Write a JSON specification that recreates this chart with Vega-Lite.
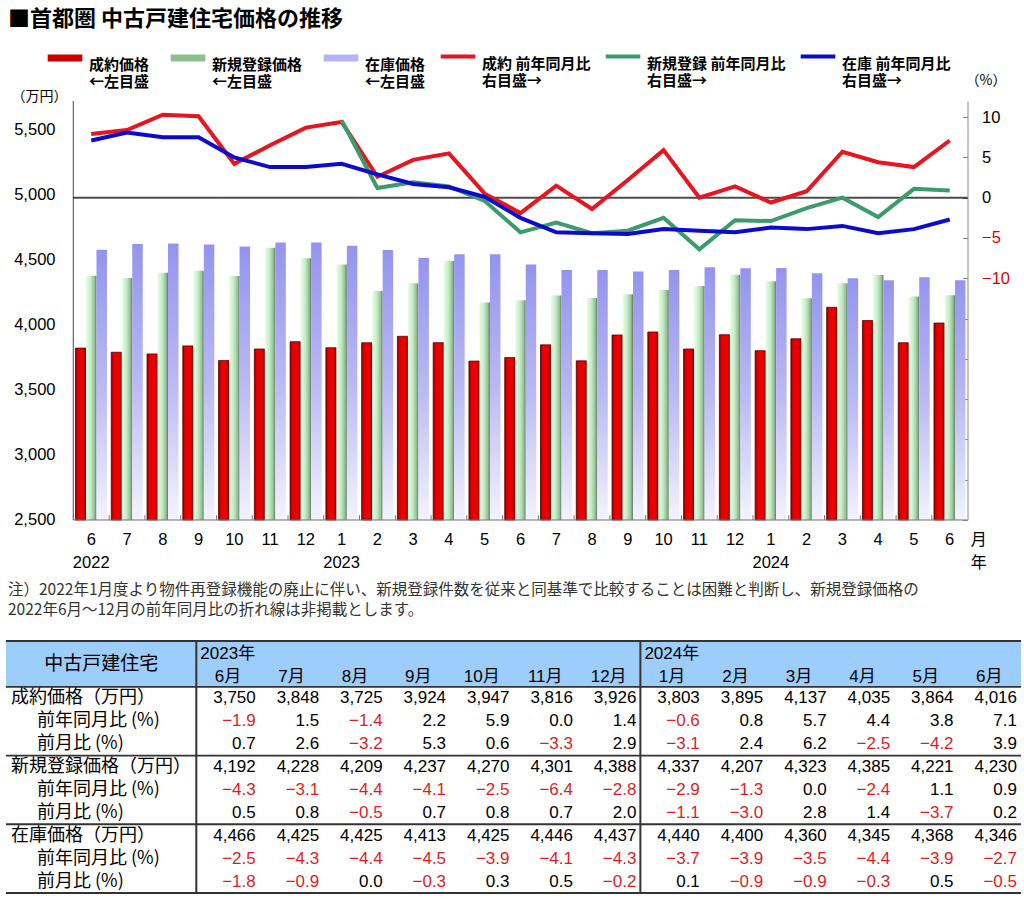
{
  "$schema": "https://vega.github.io/schema/vega-lite/v6.json",
  "padding": {"left": 5, "right": 0, "top": 8, "bottom": 0},
  "config": {
    "view": {"stroke": null},
    "font": "Noto Sans CJK JP",
    "axis": {"labelFont": "Liberation Sans", "labelFontSize": 16.5, "labelColor": "#000", "domainColor": "#666", "tickColor": "#666", "grid": false, "titleColor": "#000"}
  },
  "title": {"text": "■首都圏 中古戸建住宅価格の推移", "anchor": "start", "fontSize": 22, "font": "Noto Sans CJK JP", "fontWeight": "bold", "offset": 6, "dx": 3, "color": "#000"},
  "spacing": 10,
  "datasets": {
    "m": [
      {"ym": "2022-06", "mn": "6", "yr": "2022", "mo": "6月", "s": 3823, "n": 4380, "z": 4581, "s_yoy": 7.9, "n_yoy": null, "z_yoy": 7.1},
      {"ym": "2022-07", "mn": "7", "mo": "7月", "s": 3791, "n": 4363, "z": 4624, "s_yoy": 8.4, "n_yoy": null, "z_yoy": 8.1},
      {"ym": "2022-08", "mn": "8", "mo": "8月", "s": 3778, "n": 4403, "z": 4629, "s_yoy": 10.3, "n_yoy": null, "z_yoy": 7.5},
      {"ym": "2022-09", "mn": "9", "mo": "9月", "s": 3840, "n": 4418, "z": 4621, "s_yoy": 10.1, "n_yoy": null, "z_yoy": 7.5},
      {"ym": "2022-10", "mn": "10", "mo": "10月", "s": 3727, "n": 4379, "z": 4605, "s_yoy": 4.2, "n_yoy": null, "z_yoy": 5.0},
      {"ym": "2022-11", "mn": "11", "mo": "11月", "s": 3816, "n": 4595, "z": 4636, "s_yoy": 6.5, "n_yoy": null, "z_yoy": 3.8},
      {"ym": "2022-12", "mn": "12", "mo": "12月", "s": 3872, "n": 4514, "z": 4636, "s_yoy": 8.7, "n_yoy": null, "z_yoy": 3.8},
      {"ym": "2023-01", "mn": "1", "yr": "2023", "mo": "1月", "s": 3826, "n": 4466, "z": 4611, "s_yoy": 9.4, "n_yoy": 9.6, "z_yoy": 4.2},
      {"ym": "2023-02", "mn": "2", "mo": "2月", "s": 3864, "n": 4262, "z": 4579, "s_yoy": 2.6, "n_yoy": 1.2, "z_yoy": 2.9},
      {"ym": "2023-03", "mn": "3", "mo": "3月", "s": 3914, "n": 4323, "z": 4518, "s_yoy": 4.7, "n_yoy": 1.9, "z_yoy": 1.7},
      {"ym": "2023-04", "mn": "4", "mo": "4月", "s": 3865, "n": 4493, "z": 4545, "s_yoy": 5.5, "n_yoy": 1.4, "z_yoy": 1.3},
      {"ym": "2023-05", "mn": "5", "mo": "5月", "s": 3723, "n": 4175, "z": 4545, "s_yoy": 0.5, "n_yoy": -0.4, "z_yoy": 0.1},
      {"ym": "2023-06", "mn": "6", "mo": "6月", "s": 3750, "n": 4192, "z": 4466, "s_yoy": -1.9, "n_yoy": -4.3, "z_yoy": -2.5, "s_mom": 0.7, "n_mom": 0.5, "z_mom": -1.8},
      {"ym": "2023-07", "mn": "7", "mo": "7月", "s": 3848, "n": 4228, "z": 4425, "s_yoy": 1.5, "n_yoy": -3.1, "z_yoy": -4.3, "s_mom": 2.6, "n_mom": 0.8, "z_mom": -0.9},
      {"ym": "2023-08", "mn": "8", "mo": "8月", "s": 3725, "n": 4209, "z": 4425, "s_yoy": -1.4, "n_yoy": -4.4, "z_yoy": -4.4, "s_mom": -3.2, "n_mom": -0.5, "z_mom": 0.0},
      {"ym": "2023-09", "mn": "9", "mo": "9月", "s": 3924, "n": 4237, "z": 4413, "s_yoy": 2.2, "n_yoy": -4.1, "z_yoy": -4.5, "s_mom": 5.3, "n_mom": 0.7, "z_mom": -0.3},
      {"ym": "2023-10", "mn": "10", "mo": "10月", "s": 3947, "n": 4270, "z": 4425, "s_yoy": 5.9, "n_yoy": -2.5, "z_yoy": -3.9, "s_mom": 0.6, "n_mom": 0.8, "z_mom": 0.3},
      {"ym": "2023-11", "mn": "11", "mo": "11月", "s": 3816, "n": 4301, "z": 4446, "s_yoy": 0.0, "n_yoy": -6.4, "z_yoy": -4.1, "s_mom": -3.3, "n_mom": 0.7, "z_mom": 0.5},
      {"ym": "2023-12", "mn": "12", "mo": "12月", "s": 3926, "n": 4388, "z": 4437, "s_yoy": 1.4, "n_yoy": -2.8, "z_yoy": -4.3, "s_mom": 2.9, "n_mom": 2.0, "z_mom": -0.2},
      {"ym": "2024-01", "mn": "1", "yr": "2024", "mo": "1月", "s": 3803, "n": 4337, "z": 4440, "s_yoy": -0.6, "n_yoy": -2.9, "z_yoy": -3.7, "s_mom": -3.1, "n_mom": -1.1, "z_mom": 0.1},
      {"ym": "2024-02", "mn": "2", "mo": "2月", "s": 3895, "n": 4207, "z": 4400, "s_yoy": 0.8, "n_yoy": -1.3, "z_yoy": -3.9, "s_mom": 2.4, "n_mom": -3.0, "z_mom": -0.9},
      {"ym": "2024-03", "mn": "3", "mo": "3月", "s": 4137, "n": 4323, "z": 4360, "s_yoy": 5.7, "n_yoy": 0.0, "z_yoy": -3.5, "s_mom": 6.2, "n_mom": 2.8, "z_mom": -0.9},
      {"ym": "2024-04", "mn": "4", "mo": "4月", "s": 4035, "n": 4385, "z": 4345, "s_yoy": 4.4, "n_yoy": -2.4, "z_yoy": -4.4, "s_mom": -2.5, "n_mom": 1.4, "z_mom": -0.3},
      {"ym": "2024-05", "mn": "5", "mo": "5月", "s": 3864, "n": 4221, "z": 4368, "s_yoy": 3.8, "n_yoy": 1.1, "z_yoy": -3.9, "s_mom": -4.2, "n_mom": -3.7, "z_mom": 0.5},
      {"ym": "2024-06", "mn": "6", "mo": "6月", "s": 4016, "n": 4230, "z": 4346, "s_yoy": 7.1, "n_yoy": 0.9, "z_yoy": -2.7, "s_mom": 3.9, "n_mom": 0.2, "z_mom": -0.5}
    ],
    "rowsMain": [
      {"r": "s", "label": "成約価格（万円）"},
      {"r": "n", "label": "新規登録価格（万円）"},
      {"r": "z", "label": "在庫価格（万円）"}
    ],
    "rowsSub": [
      {"r": "s_yoy", "label": "前年同月比 (%)"},
      {"r": "s_mom", "label": "前月比 (%)"},
      {"r": "n_yoy", "label": "前年同月比 (%)"},
      {"r": "n_mom", "label": "前月比 (%)"},
      {"r": "z_yoy", "label": "前年同月比 (%)"},
      {"r": "z_mom", "label": "前月比 (%)"}
    ]
  },
  "vconcat": [
    {
      "width": 961.5,
      "height": 419,
      "data": {"name": "m"},
      "encoding": {
        "x": {"field": "ym", "type": "ordinal", "axis": null, "scale": {"paddingInner": 0.12, "paddingOuter": 1.049, "align": 0.9714, "round": false}}
      },
      "layer": [
        {
          "layer": [
            {
              "transform": [{"fold": ["s", "n", "z"], "as": ["k", "val"]}, {"filter": "datum.k == 's'"}],
              "mark": {"type": "bar", "stroke": "#5a0000", "strokeWidth": 0.8,
                "color": {"gradient": "linear", "x1": 0, "x2": 1, "y1": 0, "y2": 0,
                  "stops": [{"offset": 0, "color": "#7a0000"}, {"offset": 0.2, "color": "#e00000"}, {"offset": 0.7, "color": "#f00000"}, {"offset": 1, "color": "#950000"}]}},
              "encoding": {
                "xOffset": {"field": "k", "type": "nominal", "scale": {"domain": ["s", "n", "z"], "paddingInner": 0, "paddingOuter": 0}},
                "y": {"field": "val", "type": "quantitative", "scale": {"domain": [2500, 5725], "zero": false, "nice": false}, "axis": null},
                "y2": {"datum": 2500}
              }
            },
            {
              "transform": [{"fold": ["s", "n", "z"], "as": ["k", "val"]}, {"filter": "datum.k == 'n'"}],
              "mark": {"type": "bar",
                "color": {"gradient": "linear", "x1": 0, "x2": 1, "y1": 0, "y2": 0,
                  "stops": [{"offset": 0, "color": "#eafdea"}, {"offset": 0.45, "color": "#c4ecc4"}, {"offset": 0.8, "color": "#98c098"}, {"offset": 1, "color": "#5e7a5e"}]}},
              "encoding": {
                "xOffset": {"field": "k", "type": "nominal", "scale": {"domain": ["s", "n", "z"], "paddingInner": 0, "paddingOuter": 0}},
                "y": {"field": "val", "type": "quantitative", "scale": {"domain": [2500, 5725], "zero": false, "nice": false}, "axis": null},
                "y2": {"datum": 2500}
              }
            },
            {
              "transform": [{"fold": ["s", "n", "z"], "as": ["k", "val"]}, {"filter": "datum.k == 'z'"}],
              "mark": {"type": "bar",
                "color": {"gradient": "linear", "x1": 0, "x2": 0, "y1": 0, "y2": 1,
                  "stops": [{"offset": 0, "color": "#9494ee"}, {"offset": 0.5, "color": "#b9b9f4"}, {"offset": 1, "color": "#f3f3fe"}]}},
              "encoding": {
                "xOffset": {"field": "k", "type": "nominal", "scale": {"domain": ["s", "n", "z"], "paddingInner": 0, "paddingOuter": 0}},
                "y": {"field": "val", "type": "quantitative", "scale": {"domain": [2500, 5725], "zero": false, "nice": false}, "axis": null},
                "y2": {"datum": 2500}
              }
            },
            {
              "data": {"values": [{"tv": 2500}, {"tv": 3000}, {"tv": 3500}, {"tv": 4000}, {"tv": 4500}, {"tv": 5000}, {"tv": 5500}]},
              "mark": {"type": "text", "align": "right", "baseline": "middle", "dx": -20, "fontSize": 16.5, "font": "Liberation Sans", "color": "#000"},
              "encoding": {
                "x": {"datum": "2022-06", "type": "ordinal", "bandPosition": 0, "axis": null},
                "y": {"field": "tv", "type": "quantitative", "scale": {"domain": [2500, 5725], "zero": false, "nice": false}, "axis": null},
                "text": {"field": "tv", "type": "quantitative", "format": ","}
              }
            },
            {
              "data": {"values": [{"tv": 5725, "t": "（万円）"}]},
              "mark": {"type": "text", "align": "left", "baseline": "middle", "dx": -64, "dy": -4, "fontSize": 14, "font": "Noto Sans CJK JP", "color": "#000"},
              "encoding": {
                "x": {"datum": "2022-06", "type": "ordinal", "bandPosition": 0, "axis": null},
                "y": {"field": "tv", "type": "quantitative", "scale": {"domain": [2500, 5725], "zero": false, "nice": false}, "axis": null},
                "text": {"field": "t"}
              }
            },
            {
              "data": {"values": [{"tv": 5725}]},
              "mark": {"type": "rule", "color": "#666", "strokeWidth": 1.2},
              "encoding": {
                "x": {"datum": "2022-06", "type": "ordinal", "bandPosition": -0.069, "axis": null}
              }
            }
          ]
        },
        {
          "mark": {"type": "tick", "orient": "horizontal", "size": 35.9, "thickness": 2, "color": "#000"},
          "encoding": {"y": {"datum": 0, "type": "quantitative", "scale": {"domain": [-40, 12], "zero": false, "nice": false}, "axis": null}}
        },
        {
          "mark": {"type": "tick", "orient": "horizontal", "size": 35.9, "thickness": 1.5, "color": "#777"},
          "encoding": {"y": {"datum": -40, "type": "quantitative", "scale": {"domain": [-40, 12], "zero": false, "nice": false}, "axis": null}}
        },
        {
          "mark": {"type": "rule", "color": "#777", "strokeWidth": 1},
          "encoding": {
            "x": {"field": "ym", "type": "ordinal", "bandPosition": -0.068, "axis": null},
            "y": {"datum": -40, "type": "quantitative", "scale": {"domain": [-40, 12], "zero": false, "nice": false}, "axis": null},
            "y2": {"datum": -39.4}
          }
        },
        {
          "mark": {"type": "text", "align": "center", "baseline": "top", "dy": 12, "fontSize": 16.5, "font": "Liberation Sans", "color": "#000"},
          "encoding": {
            "y": {"datum": -40, "type": "quantitative", "scale": {"domain": [-40, 12], "zero": false, "nice": false}, "axis": null},
            "text": {"field": "mn"}
          }
        },
        {
          "transform": [{"filter": "isValid(datum.yr)"}],
          "mark": {"type": "text", "align": "center", "baseline": "top", "dy": 35, "fontSize": 16.5, "font": "Liberation Sans", "color": "#000"},
          "encoding": {
            "y": {"datum": -40, "type": "quantitative", "scale": {"domain": [-40, 12], "zero": false, "nice": false}, "axis": null},
            "text": {"field": "yr"}
          }
        },
        {
          "data": {"values": [{"t": "月"}]},
          "mark": {"type": "text", "align": "center", "baseline": "top", "dx": 29, "dy": 12, "fontSize": 16, "font": "Noto Sans CJK JP", "color": "#000"},
          "encoding": {
            "x": {"datum": "2024-06", "type": "ordinal", "axis": null},
            "y": {"datum": -40, "type": "quantitative", "scale": {"domain": [-40, 12], "zero": false, "nice": false}, "axis": null},
            "text": {"field": "t"}
          }
        },
        {
          "data": {"values": [{"t": "年"}]},
          "mark": {"type": "text", "align": "center", "baseline": "top", "dx": 29, "dy": 35, "fontSize": 16, "font": "Noto Sans CJK JP", "color": "#000"},
          "encoding": {
            "x": {"datum": "2024-06", "type": "ordinal", "axis": null},
            "y": {"datum": -40, "type": "quantitative", "scale": {"domain": [-40, 12], "zero": false, "nice": false}, "axis": null},
            "text": {"field": "t"}
          }
        },
        {
          "transform": [{"fold": ["s_yoy", "n_yoy", "z_yoy"], "as": ["k", "pct"]}],
          "mark": {"type": "line"},
          "encoding": {
            "y": {
              "field": "pct", "type": "quantitative",
              "scale": {"domain": [-40, 12], "zero": false, "nice": false},
              "axis": {
                "orient": "right", "values": [-40, -35, -30, -25, -20, -15, -10, -5, 0, 5, 10],
                "labelExpr": "datum.value >= -10 ? datum.label : ''",
                "labelColor": {"condition": {"test": "datum.value < 0", "value": "#e00000"}, "value": "#000"},
                "tickSize": -5, "labelPadding": 19, "domainColor": "#888", "tickColor": "#888",
                "title": "（%）", "titleAngle": 0, "titleX": 18, "titleY": -21, "titleAlign": "center", "titleBaseline": "middle",
                "titleFont": "Noto Sans CJK JP", "titleFontSize": 14, "titleFontWeight": "normal"
              }
            },
            "color": {
              "field": "k", "type": "nominal",
              "scale": {"domain": ["sb", "nb", "zb", "s_yoy", "n_yoy", "z_yoy"], "range": ["#c80000", "#8fbf8f", "#b4b4f4", "#e8141e", "#3d9a6c", "#0b0bd0"]},
              "legend": {
                "title": null, "orient": "none", "legendX": 38, "legendY": -64, "direction": "horizontal", "columns": 6, "gridAlign": "none",
                "symbolType": "stroke", "symbolSize": 1200, "labelFont": "Noto Sans CJK JP", "labelFontSize": 15, "labelFontWeight": "bold",
                "labelBaseline": "top", "labelOffset": 3, "labelLimit": 300, "columnPadding": 6, "padding": 0, "labelColor": "#000",
                "labelExpr": "datum.value=='sb' ? ['成約価格','←左目盛'] : datum.value=='nb' ? ['新規登録価格','←左目盛'] : datum.value=='zb' ? ['在庫価格','←左目盛'] : datum.value=='s_yoy' ? ['成約 前年同月比','右目盛→'] : datum.value=='n_yoy' ? ['新規登録 前年同月比','右目盛→'] : ['在庫 前年同月比','右目盛→']"
              }
            },
            "strokeWidth": {
              "field": "k", "type": "nominal",
              "scale": {"type": "ordinal", "domain": ["sb", "nb", "zb", "s_yoy", "n_yoy", "z_yoy"], "range": [7, 7, 7, 4, 4, 4]},
              "legend": {
                "title": null, "orient": "none", "legendX": 38, "legendY": -64, "direction": "horizontal", "columns": 6, "gridAlign": "none",
                "symbolType": "stroke", "symbolSize": 1200, "labelFont": "Noto Sans CJK JP", "labelFontSize": 15, "labelFontWeight": "bold",
                "labelBaseline": "top", "labelOffset": 3, "labelLimit": 300, "columnPadding": 6, "padding": 0, "labelColor": "#000",
                "labelExpr": "datum.value=='sb' ? ['成約価格','←左目盛'] : datum.value=='nb' ? ['新規登録価格','←左目盛'] : datum.value=='zb' ? ['在庫価格','←左目盛'] : datum.value=='s_yoy' ? ['成約 前年同月比','右目盛→'] : datum.value=='n_yoy' ? ['新規登録 前年同月比','右目盛→'] : ['在庫 前年同月比','右目盛→']"
              }
            }
          }
        }
      ],
      "resolve": {"scale": {"y": "independent"}}
    },
    {
      "width": 1015,
      "height": 252,
      "title": {
        "text": ["注）2022年1月度より物件再登録機能の廃止に伴い、新規登録件数を従来と同基準で比較することは困難と判断し、新規登録価格の", "2022年6月～12月の前年同月比の折れ線は非掲載とします。"],
        "anchor": "start", "fontSize": 15.5, "fontWeight": "normal", "color": "#333", "lineHeight": 20, "offset": 22, "dx": 3, "font": "Noto Sans CJK JP"
      },
      "layer": [
        {
          "data": {"values": [{"r": "h1"}, {"r": "h2"}]},
          "mark": {"type": "rect", "color": "#9dcdfa"},
          "encoding": {
            "y": {"field": "r", "type": "nominal", "axis": null,
              "scale": {"type": "band", "domain": ["h1", "h2", "s", "s_yoy", "s_mom", "n", "n_yoy", "n_mom", "z", "z_yoy", "z_mom"], "paddingInner": 0, "paddingOuter": 0}}
          }
        },
        {
          "data": {"values": [{"r": "h1"}, {"r": "s"}, {"r": "n"}, {"r": "z"}]},
          "mark": {"type": "rule", "color": "#333", "strokeWidth": 1.8},
          "encoding": {
            "y": {"field": "r", "type": "nominal", "bandPosition": 0, "axis": null}
          }
        },
        {
          "data": {"values": [{"r": "z_mom"}]},
          "mark": {"type": "rule", "color": "#333", "strokeWidth": 2},
          "encoding": {
            "y": {"field": "r", "type": "nominal", "bandPosition": 1, "axis": null}
          }
        },
        {
          "data": {"values": [{"ym": "2023-06"}, {"ym": "2024-01"}]},
          "mark": {"type": "rule", "color": "#333", "strokeWidth": 2},
          "encoding": {
            "x": {"field": "ym", "type": "nominal", "bandPosition": 0, "axis": null,
              "scale": {"type": "band", "domain": ["L1", "L2", "L3", "2023-06", "2023-07", "2023-08", "2023-09", "2023-10", "2023-11", "2023-12", "2024-01", "2024-02", "2024-03", "2024-04", "2024-05", "2024-06"], "paddingInner": 0, "paddingOuter": 0}}
          }
        },
        {
          "data": {"name": "rowsMain"},
          "mark": {"type": "text", "align": "left", "baseline": "middle", "dx": 5, "fontSize": 18, "font": "Noto Sans CJK JP", "color": "#000"},
          "encoding": {
            "x": {"datum": "L1", "type": "nominal", "bandPosition": 0},
            "y": {"field": "r", "type": "nominal"},
            "text": {"field": "label"}
          }
        },
        {
          "data": {"name": "rowsSub"},
          "mark": {"type": "text", "align": "left", "baseline": "middle", "dx": 31, "fontSize": 18, "font": "Noto Sans CJK JP", "color": "#000"},
          "encoding": {
            "x": {"datum": "L1", "type": "nominal", "bandPosition": 0},
            "y": {"field": "r", "type": "nominal"},
            "text": {"field": "label"}
          }
        },
        {
          "data": {"values": [{"t": "中古戸建住宅"}]},
          "mark": {"type": "text", "align": "center", "baseline": "middle", "fontSize": 19, "font": "Noto Sans CJK JP", "color": "#000"},
          "encoding": {
            "x": {"datum": "L2", "type": "nominal"},
            "y": {"datum": "h1", "type": "nominal", "bandPosition": 1},
            "text": {"field": "t"}
          }
        },
        {
          "data": {"values": [{"ym": "2023-06", "t": "2023年"}, {"ym": "2024-01", "t": "2024年"}]},
          "mark": {"type": "text", "align": "left", "baseline": "middle", "dx": 4, "dy": 2, "fontSize": 17, "font": "Liberation Sans, Noto Sans CJK JP", "color": "#000"},
          "encoding": {
            "x": {"field": "ym", "type": "nominal", "bandPosition": 0},
            "y": {"datum": "h1", "type": "nominal"},
            "text": {"field": "t"}
          }
        },
        {
          "data": {"name": "m"},
          "transform": [{"filter": "datum.ym >= '2023-06'"}],
          "mark": {"type": "text", "align": "center", "baseline": "middle", "dy": 2, "fontSize": 17, "font": "Liberation Sans, Noto Sans CJK JP", "color": "#000"},
          "encoding": {
            "x": {"field": "ym", "type": "nominal"},
            "y": {"datum": "h2", "type": "nominal"},
            "text": {"field": "mo"}
          }
        },
        {
          "data": {"name": "m"},
          "transform": [{"filter": "datum.ym >= '2023-06'"}, {"fold": ["s", "n", "z"], "as": ["k", "v"]}],
          "mark": {"type": "text", "align": "right", "baseline": "middle", "dx": -4, "fontSize": 17, "font": "Liberation Sans", "color": "#000"},
          "encoding": {
            "x": {"field": "ym", "type": "nominal", "bandPosition": 1},
            "y": {"field": "k", "type": "nominal"},
            "text": {"field": "v", "type": "quantitative", "format": ","}
          }
        },
        {
          "data": {"name": "m"},
          "transform": [{"filter": "datum.ym >= '2023-06'"}, {"fold": ["s_yoy", "s_mom", "n_yoy", "n_mom", "z_yoy", "z_mom"], "as": ["k", "v"]}],
          "mark": {"type": "text", "align": "right", "baseline": "middle", "dx": -4, "fontSize": 17, "font": "Liberation Sans"},
          "encoding": {
            "x": {"field": "ym", "type": "nominal", "bandPosition": 1},
            "y": {"field": "k", "type": "nominal"},
            "text": {"field": "v", "type": "quantitative", "format": ".1f"},
            "color": {"condition": {"test": "datum.v < 0", "value": "#dc1e1e"}, "value": "#000"}
          }
        }
      ]
    }
  ]
}
